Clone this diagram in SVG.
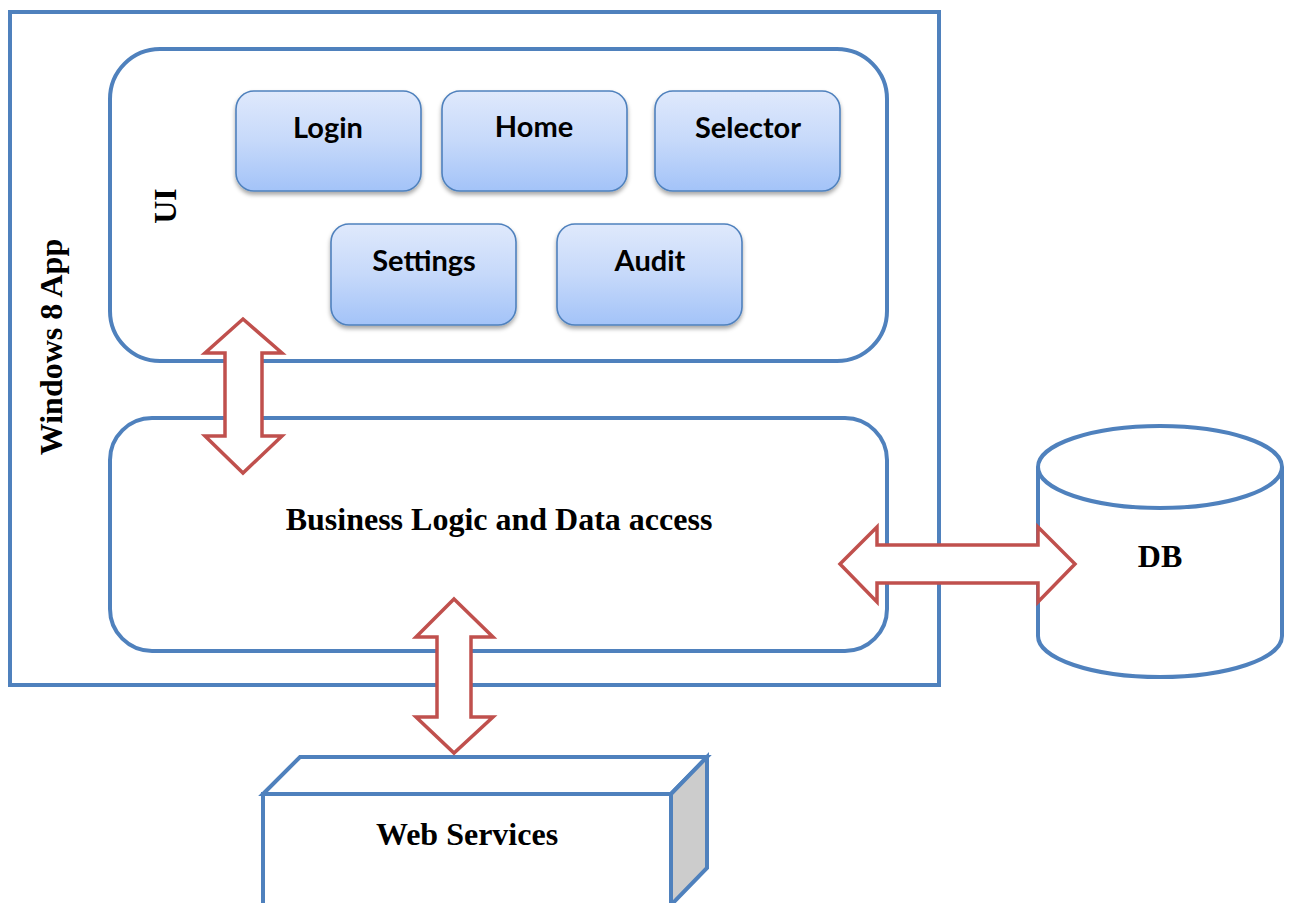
<svg xmlns="http://www.w3.org/2000/svg" width="1294" height="903" viewBox="0 0 1294 903">
<style>
.box{fill:#fff;stroke:#4F81BD;stroke-width:4}
.btn{fill:url(#bg);stroke:#4F81BD;stroke-width:1.6;filter:url(#sh)}
.bt{font-family:Lato,"Open Sans",sans-serif;font-weight:bold;font-size:29px;fill:#000;text-anchor:middle}
.tt{font-family:"Liberation Serif","Times New Roman",serif;font-weight:bold;font-size:32px;fill:#000;text-anchor:middle}
.arr{fill:#fff;stroke:#C0504D;stroke-width:3.5;stroke-linejoin:miter}
</style>
<defs>
<linearGradient id="bg" x1="0" y1="0" x2="0" y2="1">
<stop offset="0" stop-color="#DFE9FC"/>
<stop offset="0.5" stop-color="#C6D9FA"/>
<stop offset="1" stop-color="#A3C3F8"/>
</linearGradient>
<filter id="sh" x="-10%" y="-10%" width="120%" height="130%">
<feDropShadow dx="0" dy="3" stdDeviation="2" flood-color="#000" flood-opacity="0.35"/>
</filter>
</defs>
<g id="app">
<rect class="box" x="10" y="12" width="929" height="673"/>
<text class="tt" transform="translate(62,347) rotate(-90)" font-size="34">Windows 8 App</text>
</g>
<g id="ui">
<rect class="box" x="110" y="49" width="777" height="312" rx="50" ry="50"/>
<text class="tt" transform="translate(176,206) rotate(-90)">UI</text>
</g>
<g id="login"><rect class="btn" x="236" y="91" width="185" height="100" rx="18"/><text class="bt" x="328" y="138">Login</text></g>
<g id="home"><rect class="btn" x="442" y="91" width="185" height="100" rx="18"/><text class="bt" x="534" y="137">Home</text></g>
<g id="selector"><rect class="btn" x="655" y="91" width="185" height="100" rx="18"/><text class="bt" x="748" y="138">Selector</text></g>
<g id="settings"><rect class="btn" x="331" y="224" width="185" height="101" rx="18"/><text class="bt" x="424" y="271">Settings</text></g>
<g id="audit"><rect class="btn" x="557" y="224" width="185" height="101" rx="18"/><text class="bt" x="650" y="271">Audit</text></g>
<g id="business">
<rect class="box" x="110" y="418" width="777" height="233" rx="42" ry="42"/>
<text class="tt" x="499" y="530">Business Logic and Data access</text>
</g>
<g id="db">
<path class="box" d="M1038,467 L1038,636 A122,41 0 0 0 1282,636 L1282,467"/>
<ellipse class="box" cx="1160" cy="467" rx="122" ry="41"/>
<text class="tt" x="1160" y="567">DB</text>
</g>
<g id="webservices">
<rect class="box" x="263" y="794" width="408" height="120"/>
<polygon class="box" points="263,794 300,757 707,757 671,794"/>
<polygon class="box" style="fill:#CCCCCC" points="671,794 707,757 707,868 671,905"/>
<text class="tt" x="467" y="845">Web Services</text>
</g>
<g id="connectors">
<polygon class="arr" points="243,319 282,353 262,353 262,436 282,436 243,473 205,436 225,436 225,353 205,353"/>
<polygon class="arr" points="454,599 493,637 471,637 471,717 493,717 454,753 416,717 437,717 437,637 416,637"/>
<polygon class="arr" points="840,564 877,527 877,545 1038,545 1038,527 1075,564 1038,602 1038,583 877,583 877,602"/>
</g>
</svg>
